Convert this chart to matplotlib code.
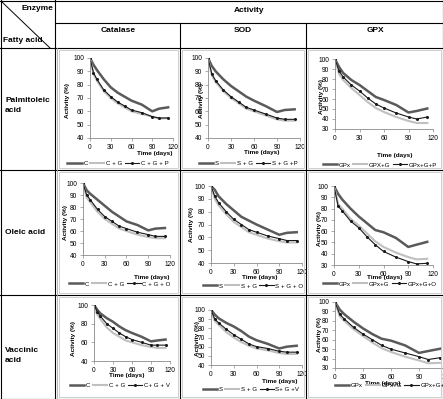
import matplotlib.pyplot as plt
from matplotlib.lines import Line2D
from matplotlib.patches import Rectangle

W, H = 443, 399

days = [0, 5, 10, 20, 30, 40, 50, 60, 75, 90, 100, 113]

# Palmitoleic acid row
cat_palm = [[100, 95, 91, 84, 78, 74, 71, 68, 65, 60, 62, 63],
            [100, 88, 83, 75, 70, 66, 63, 60, 58, 56, 54.5, 55],
            [100, 89, 84, 76, 71, 67, 64, 61, 59, 56, 55, 55]]
sod_palm = [[100, 94, 90, 84, 79, 75, 71, 68, 64, 59.5, 61, 61.5],
            [100, 87, 82, 75, 70, 66, 62, 60, 57, 54, 53, 53],
            [100, 88, 83, 76, 71, 67, 63, 61, 58, 55, 54, 54]]
gpx_palm = [[100, 92, 86, 79, 74, 68, 62, 59, 54, 46.5, 48, 50.5],
            [100, 85, 79, 71, 64, 57, 51, 47, 42, 38, 36, 36],
            [100, 88, 82, 74, 68, 61, 55, 51, 46, 42, 40, 42]]

# Oleic acid row
cat_ole = [[100, 94, 91, 86, 81, 76, 72, 68, 65, 60.5, 62, 62.5],
           [100, 88, 84, 76, 70, 66, 62, 60, 57, 55, 54, 54],
           [100, 90, 86, 78, 72, 68, 64, 62, 59, 57, 55.5, 55.5]]
sod_ole = [[100, 97, 92, 86, 81, 76, 73, 70, 66, 62, 63.5, 64],
           [100, 90, 85, 78, 72, 68, 64, 62, 59, 57, 56, 56],
           [100, 92, 87, 80, 74, 70, 66, 64, 61, 59, 57.5, 57.5]]
gpx_ole = [[100, 93, 88, 80, 73, 67, 61, 59, 54, 46, 48, 50.5],
           [100, 84, 80, 71, 65, 58, 51, 46, 41, 37, 35, 35.5],
           [100, 82, 78, 69, 63, 55, 48, 42, 37, 33, 31, 31.5]]

# Vaccinic acid row
cat_vac = [[100, 95, 91, 86, 82, 77, 73, 70, 66, 61, 62, 63],
           [97, 90, 85, 76, 70, 66, 62, 60, 57, 55, 54, 54],
           [100, 93, 88, 80, 75, 70, 66, 63, 60, 57, 57, 57]]
sod_vac = [[100, 95, 91, 86, 82, 77, 71, 67, 63, 58, 60, 61],
           [98, 88, 84, 76, 70, 65, 61, 58, 56, 53, 52, 52],
           [100, 90, 86, 79, 73, 68, 63, 60, 58, 55, 54, 54]]
gpx_vac = [[100, 92, 87, 79, 72, 66, 61, 59, 54, 46, 48, 50.5],
           [100, 85, 80, 71, 64, 57, 51, 47, 42, 38, 35, 35.5],
           [100, 87, 82, 73, 66, 60, 54, 50, 46, 42, 39, 41]]

labels = [
    [["C", "C + G", "C + G + P"], ["S", "S + G", "S + G +P"], ["GPx", "GPX+G", "GPx+G+P"]],
    [["C", "C + G", "C + G + O"], ["S", "S + G", "S + G + O"], ["GPx", "GPx+G", "GPx+G+O"]],
    [["C", "C + G", "C+ G + V"], ["S", "S + G", "S+ G +V"], ["GPx", "GPx+G", "GPx+G+V"]],
]
data = [[cat_palm, sod_palm, gpx_palm],
        [cat_ole, sod_ole, gpx_ole],
        [cat_vac, sod_vac, gpx_vac]]

row_names = ["Palmitoleic\nacid", "Oleic acid", "Vaccinic\nacid"]
col_names = ["Catalase", "SOD", "GPX"]

# layout in pixels: axes (l, t, r, b), ylim/ystep, ylabel (x, y), xlabel (x, y), legend (x, y)
layout = [
    [dict(ax=(90, 58, 173, 138), y0=40, step=10, yl=(68, 100), xl=(155, 154), lg=(118, 163)),
     dict(ax=(208, 58, 300, 138), y0=40, step=10, yl=(202, 100), xl=(262, 153), lg=(248, 163)),
     dict(ax=(335, 59, 433, 129), y0=30, step=10, yl=(322, 96), xl=(395, 155), lg=(380, 165))],
    [dict(ax=(83, 183, 170, 255), y0=40, step=10, yl=(65, 222), xl=(152, 277), lg=(120, 284)),
     dict(ax=(211, 186, 302, 263), y0=40, step=10, yl=(192, 225), xl=(260, 278), lg=(253, 286)),
     dict(ax=(334, 186, 433, 265), y0=30, step=10, yl=(320, 228), xl=(385, 277), lg=(380, 284))],
    [dict(ax=(94, 305, 170, 361), y0=40, step=20, yl=(73, 338), xl=(127, 375), lg=(120, 385)),
     dict(ax=(211, 310, 302, 365), y0=40, step=10, yl=(197, 338), xl=(280, 382), lg=(251, 389)),
     dict(ax=(335, 302, 447, 368), y0=30, step=10, yl=(320, 335), xl=(383, 384), lg=(392, 385))],
]

colors = ["#5a5a5a", "#c0c0c0", "#1a1a1a"]
widths = [1.8, 1.5, 0.8]

plt.rcParams['font.family'] = ['Liberation Sans', 'DejaVu Sans']

fig = plt.figure(figsize=(W / 100, H / 100), dpi=100)


def fx(x):
    return x / W


def fy(y):
    return 1 - y / H


def hline(y, x0, x1, **kw):
    fig.add_artist(Line2D([fx(x0), fx(x1)], [fy(y), fy(y)], color="black", lw=0.8, **kw))


def vline(x, y0, y1, **kw):
    fig.add_artist(Line2D([fx(x), fx(x)], [fy(y0), fy(y1)], color="black", lw=0.8, **kw))


# table grid
hline(0.5, 0, W)
hline(H - 0.5, 0, W)
vline(0.5, 0, H)
vline(W - 0.5, 0, H)
hline(23, 55, W)
hline(48, 0, W)
hline(170, 0, W)
hline(295, 0, W)
vline(55, 0, H)
fig.add_artist(Line2D([fx(57), fx(57)], [fy(48), fy(H)], color="#aaaaaa", lw=0.6))
vline(180, 23, H)
vline(306, 23, H)
fig.add_artist(Line2D([fx(2), fx(50)], [fy(2), fy(48)], color="black", lw=0.7))

fig.text(fx(53), fy(9), "Enzyme", ha="right", va="center", fontsize=6, fontweight="bold")
fig.text(fx(3), fy(41), "Fatty acid", ha="left", va="center", fontsize=6, fontweight="bold")
fig.text(fx(249), fy(11), "Activity", ha="center", va="center", fontsize=6, fontweight="bold")
for name, cx in zip(col_names, [118, 243, 375]):
    fig.text(fx(cx), fy(30), name, ha="center", va="center", fontsize=6, fontweight="bold")
for name, cy in zip(row_names, [106, 232, 355]):
    fig.text(fx(5), fy(cy), name, ha="left", va="center", fontsize=6, fontweight="bold",
             linespacing=1.6)

cell_x = [(57, 180), (180, 306), (306, W)]
cell_y = [(48, 170), (170, 295), (295, H)]

for r in range(3):
    for c in range(3):
        L = layout[r][c]
        # chart frame
        x0, x1 = cell_x[c]
        y0, y1 = cell_y[r]
        fig.add_artist(Rectangle((fx(x0 + 2), fy(y1 - 2)), (x1 - x0 - 4) / W, (y1 - y0 - 4) / H,
                                 fill=False, ec="#c8c8c8", lw=0.6))
        l, t, rr, b = L["ax"]
        ax = fig.add_axes([fx(l), fy(b), (rr - l) / W, (b - t) / H])
        series = data[r][c]
        for i in range(3):
            ax.plot(days, series[i], color=colors[i], lw=widths[i],
                    marker="o" if i == 2 else None, ms=1.2, label=labels[r][c][i])
        ax.set_xlim(0, 120)
        ax.set_ylim(L["y0"], 100)
        ax.set_xticks([0, 30, 60, 90, 120])
        ax.set_yticks(list(range(L["y0"], 101, L["step"])))
        for s in ["top", "right"]:
            ax.spines[s].set_visible(False)
        for s in ["left", "bottom"]:
            ax.spines[s].set_color("#8a8a8a")
            ax.spines[s].set_linewidth(0.6)
        ax.tick_params(labelsize=4.8, length=2, width=0.5, color="#8a8a8a", pad=2)
        ax.patch.set_alpha(0)
        fig.text(fx(L["yl"][0]), fy(L["yl"][1]), "Activity (%)", rotation=90, ha="center",
                 va="center", fontsize=4.6, fontweight="bold")
        fig.text(fx(L["xl"][0]), fy(L["xl"][1]), "Time (days)", ha="center", va="center",
                 fontsize=4.6, fontweight="bold")
        fig.legend(*ax.get_legend_handles_labels(), loc="center",
                   bbox_to_anchor=(fx(L["lg"][0]), fy(L["lg"][1])), ncol=3, frameon=False,
                   fontsize=4.4, handlelength=2.3, handletextpad=0.3, columnspacing=0.4,
                   borderpad=0, borderaxespad=0)

fig.savefig("out.png", dpi=100)
